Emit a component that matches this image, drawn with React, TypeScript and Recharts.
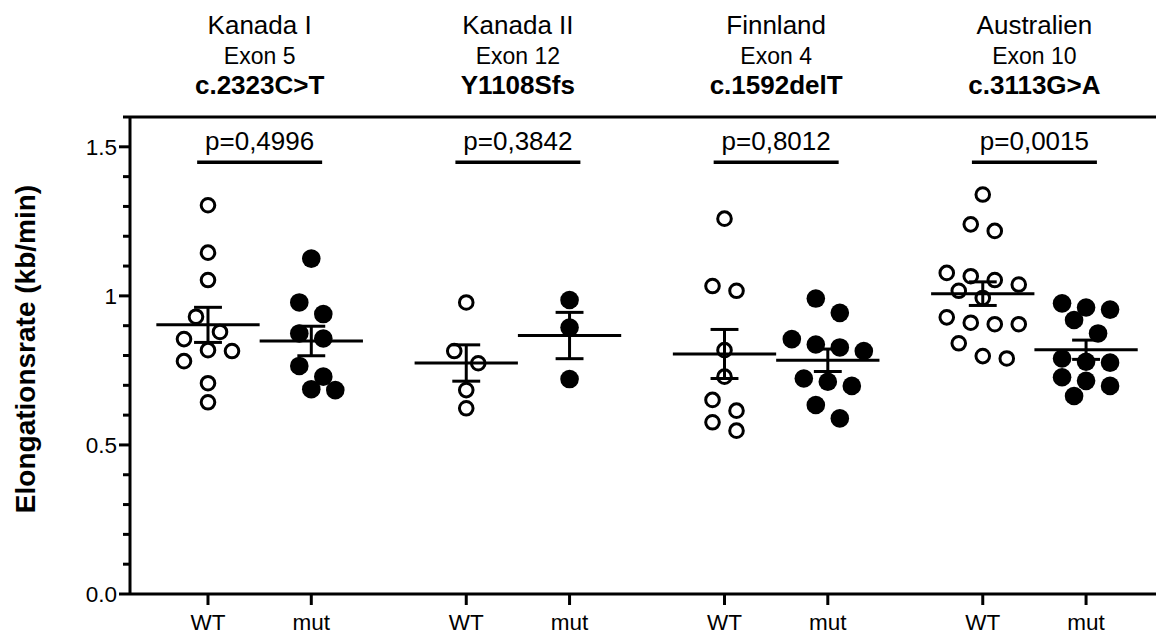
import React from 'react';
import { ScatterChart, Scatter, XAxis, YAxis, ReferenceLine, Label } from 'recharts';

// ---------- data ----------
const groupNames = ['Kanada I', 'Kanada II', 'Finnland', 'Australien'];
const exonLabels = ['Exon 5', 'Exon 12', 'Exon 4', 'Exon 10'];
const mutationLabels = ['c.2323C>T', 'Y1108Sfs', 'c.1592delT', 'c.3113G>A'];
const pValueLabels = ['p=0,4996', 'p=0,3842', 'p=0,8012', 'p=0,0015'];
const conditionLabels = ['WT', 'mut'];

const kanadaIWT = [1.304, 1.145, 1.053, 0.93, 0.879, 0.855, 0.815, 0.818, 0.781, 0.707, 0.643];
const kanadaIMut = [1.125, 0.978, 0.939, 0.874, 0.857, 0.765, 0.729, 0.684, 0.687];
const kanadaIIWT = [0.978, 0.815, 0.774, 0.684, 0.623];
const kanadaIIMut = [0.986, 0.894, 0.721];
const finnlandWT = [1.259, 1.033, 1.017, 0.818, 0.729, 0.651, 0.615, 0.576, 0.548];
const finnlandMut = [0.991, 0.943, 0.837, 0.815, 0.827, 0.855, 0.712, 0.698, 0.723, 0.634, 0.589];
const australienWT = [1.34, 1.24, 1.218, 1.066, 1.077, 1.038, 1.053, 1.017, 0.993, 0.928, 0.905, 0.905, 0.91, 0.841, 0.79, 0.798];
const australienMut = [0.954, 0.975, 0.961, 0.919, 0.874, 0.779, 0.776, 0.79, 0.715, 0.727, 0.698, 0.664];

const wtSeries = [kanadaIWT, kanadaIIWT, finnlandWT, australienWT];
const mutSeries = [kanadaIMut, kanadaIIMut, finnlandMut, australienMut];

const yTicks = [0, 0.1, 0.2, 0.3, 0.4, 0.5, 0.6, 0.7, 0.8, 0.9, 1, 1.1, 1.2, 1.3, 1.4, 1.5, 1.6];
const yMajorValues = [0, 0.5, 1, 1.5];
const yMajorLabels = ['0.0', '0.5', '1', '1.5'];
const yDomain = [0, 1.6];
const pLineLevel = 1.448;

// ---------- layout ----------
const W = 1156;
const H = 635;
const Y_AXIS_W = 130;
const TOP_H = 117;
const BOTTOM_H = 41;
const GROUP_SPACING = 2.5;
const X_DOMAIN = [-0.755, 9.177];
const FONT = "'Liberation Sans', Arial, Helvetica, sans-serif";

const posOf = (g: number, c: number) => g * GROUP_SPACING + c;
const xTicks: number[] = [];
groupNames.forEach((_, g) => conditionLabels.forEach((__, c) => xTicks.push(posOf(g, c))));
const groupCenters = groupNames.map((_, g) => posOf(g, 0.5));

const mean = (a: number[]) => a.reduce((s, v) => s + v, 0) / a.length;
const sem = (a: number[]) => {
  const m = mean(a);
  const v = a.reduce((s, x) => s + (x - m) * (x - m), 0) / (a.length - 1);
  return Math.sqrt(v / a.length);
};

// beeswarm-like horizontal spreading (pixel offsets) computed from values
const pxPerUnit = (H - TOP_H - BOTTOM_H) / (yDomain[1] - yDomain[0]);
function swarm(values: number[]): number[] {
  const STEP = 24, DIAM = 17, ROW = 16;
  const ys = values.map((v) => -v * pxPerUnit);
  const order = values.map((_, i) => i).sort((a, b) => values[b] - values[a]);
  const rows: number[][] = [];
  let cur: number[] = [];
  let start = 0;
  for (const i of order) {
    if (cur.length && ys[i] - start > ROW) {
      rows.push(cur);
      cur = [];
    }
    if (!cur.length) start = ys[i];
    cur.push(i);
  }
  if (cur.length) rows.push(cur);
  const dx: number[] = values.map(() => 0);
  const placed: number[] = [];
  const shifts = [0, 12, -12, 24, -24, 36, -36, 48, -48];
  for (const row of rows) {
    const n = row.length;
    let done = false;
    for (const s of shifts) {
      const slots = row.map((_, k) => (k - (n - 1) / 2) * STEP + s);
      const used = slots.map(() => false);
      const assign: number[] = [];
      let ok = true;
      for (const i of row) {
        let found = -1;
        for (let k = 0; k < n; k++) {
          if (used[k]) continue;
          if (placed.every((j) => Math.hypot(dx[j] - slots[k], ys[j] - ys[i]) >= DIAM)) {
            found = k;
            break;
          }
        }
        if (found < 0) {
          ok = false;
          break;
        }
        used[found] = true;
        assign.push(slots[found]);
      }
      if (ok) {
        row.forEach((i, idx) => {
          dx[i] = assign[idx];
          placed.push(i);
        });
        done = true;
        break;
      }
    }
    if (!done) {
      row.forEach((i, k) => {
        dx[i] = (k - (n - 1) / 2) * STEP;
        placed.push(i);
      });
    }
  }
  return dx;
}

const buildPoints = (series: number[][], c: number) =>
  series.flatMap((vals, g) => {
    const dx = swarm(vals);
    return vals.map((v, i) => ({ x: posOf(g, c), y: v, dx: dx[i] }));
  });

const wtPoints = buildPoints(wtSeries, 0);
const mutPoints = buildPoints(mutSeries, 1);

const stats = [wtSeries, mutSeries].flatMap((series, c) =>
  series.map((vals, g) => ({ x: posOf(g, c), m: mean(vals), s: sem(vals) }))
);

// ---------- renderers ----------
const OpenDot = (p: any) => (
  <circle cx={p.cx + p.payload.dx} cy={p.cy} r={6.8} fill="none" stroke="#000" strokeWidth={3} />
);
const FilledDot = (p: any) => <circle cx={p.cx + p.payload.dx} cy={p.cy} r={9.3} fill="#000" />;

const YTick = (p: any) => {
  const { x, y, payload } = p;
  const idx = yMajorValues.findIndex((v) => Math.abs(v - payload.value) < 1e-6);
  const major = idx >= 0;
  return (
    <g>
      <line x1={x - (major ? 11 : 7)} x2={x} y1={y} y2={y} stroke="#000" strokeWidth={3} />
      {major && (
        <text x={x - 13} y={y} dy="0.36em" textAnchor="end" fontSize={22.5} fill="#000" fontFamily={FONT}>
          {yMajorLabels[idx]}
        </text>
      )}
    </g>
  );
};

const HeaderTick = (p: any) => {
  const { x, y, payload } = p;
  const g = Math.round((payload.value - 0.5) / GROUP_SPACING);
  return (
    <g fontFamily={FONT} fill="#000">
      <text x={x} y={y - 83.5} textAnchor="middle" fontSize={26}>{groupNames[g]}</text>
      <text x={x} y={y - 53.5} textAnchor="middle" fontSize={23}>{exonLabels[g]}</text>
      <text x={x} y={y - 23.5} textAnchor="middle" fontSize={26} fontWeight="bold">{mutationLabels[g]}</text>
    </g>
  );
};

const YLabel = (p: any) => {
  const vb = p.viewBox;
  const cx = vb.x + 35;
  const cy = vb.y + vb.height / 2 - 6.5;
  return (
    <text
      x={cx}
      y={cy}
      transform={`rotate(-90, ${cx}, ${cy})`}
      textAnchor="middle"
      fontSize={28}
      fontWeight="bold"
      fill="#000"
      fontFamily={FONT}
    >
      Elongationsrate (kb/min)
    </text>
  );
};

export default function App() {
  const line = { stroke: '#000', strokeWidth: 3 };
  return (
    <div style={{ position: 'absolute', left: 0, top: 0, width: W, height: H, background: '#fff', fontFamily: FONT }}>
      <ScatterChart width={W} height={H} margin={{ top: 0, right: 0, bottom: 0, left: 0 }}>
        <XAxis
          type="number"
          dataKey="x"
          domain={X_DOMAIN}
          allowDataOverflow
          ticks={xTicks}
          interval={0}
          tickFormatter={(v: number) => conditionLabels[xTicks.findIndex((t) => Math.abs(t - v) < 1e-6) % 2]}
          height={BOTTOM_H}
          axisLine={line}
          tickLine={line}
          tickSize={11}
          tickMargin={9}
          tick={{ fill: '#000', fontSize: 22.5, fontFamily: FONT }}
        />
        <XAxis
          xAxisId="top"
          orientation="top"
          type="number"
          dataKey="x"
          domain={X_DOMAIN}
          allowDataOverflow
          ticks={groupCenters}
          interval={0}
          height={TOP_H}
          axisLine={line}
          tickLine={false}
          tickSize={0}
          tickMargin={0}
          tick={<HeaderTick />}
        />
        <YAxis
          type="number"
          dataKey="y"
          domain={yDomain}
          allowDataOverflow
          ticks={yTicks}
          interval={0}
          width={Y_AXIS_W}
          axisLine={line}
          tickLine={false}
          tickSize={0}
          tickMargin={0}
          tick={<YTick />}
        >
          <Label content={<YLabel />} />
        </YAxis>
        <Scatter data={wtPoints} shape={<OpenDot />} isAnimationActive={false} />
        <Scatter data={mutPoints} shape={<FilledDot />} isAnimationActive={false} />
        {stats.map((st, i) => (
          <ReferenceLine
            key={`m${i}`}
            segment={[{ x: st.x - 0.5, y: st.m }, { x: st.x + 0.5, y: st.m }]}
            stroke="#000"
            strokeWidth={3}
          />
        ))}
        {stats.map((st, i) => (
          <ReferenceLine
            key={`v${i}`}
            segment={[{ x: st.x, y: st.m - st.s }, { x: st.x, y: st.m + st.s }]}
            stroke="#000"
            strokeWidth={3}
          />
        ))}
        {stats.map((st, i) => (
          <ReferenceLine
            key={`t${i}`}
            segment={[{ x: st.x - 0.135, y: st.m + st.s }, { x: st.x + 0.135, y: st.m + st.s }]}
            stroke="#000"
            strokeWidth={3}
          />
        ))}
        {stats.map((st, i) => (
          <ReferenceLine
            key={`b${i}`}
            segment={[{ x: st.x - 0.135, y: st.m - st.s }, { x: st.x + 0.135, y: st.m - st.s }]}
            stroke="#000"
            strokeWidth={3}
          />
        ))}
        {groupCenters.map((gc, g) => (
          <ReferenceLine
            key={`p${g}`}
            segment={[{ x: gc - 0.605, y: pLineLevel }, { x: gc + 0.605, y: pLineLevel }]}
            stroke="#000"
            strokeWidth={3.5}
            label={{ value: pValueLabels[g], position: 'top', offset: 12, fontSize: 26, fill: '#000', fontFamily: FONT }}
          />
        ))}
      </ScatterChart>
    </div>
  );
}
